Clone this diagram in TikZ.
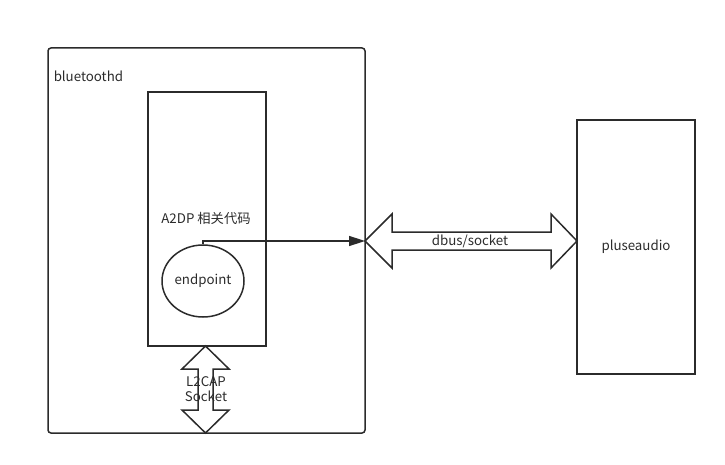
\documentclass[tikz,border=0pt]{standalone}
\usepackage{fontspec}
\setmainfont{Noto Sans CJK SC}
\usetikzlibrary{arrows.meta, shapes.geometric}
\definecolor{ink}{HTML}{2B2B2B}

\begin{document}
\begin{tikzpicture}[
                x = 1pt, y = -1pt, % pixel coordinates, y downwards
                > = {Triangle[length=16pt, width=10pt]}, % arrow head style
                line width = 1.5pt, draw = ink,
                every node/.style = {text = ink, font = \fontsize{13.3}{15}\selectfont},
                box/.style = {draw = ink, line width = 1.5pt, rectangle, inner sep = 0pt},
                bigarrow/.style = {draw = ink, line width = 1.5pt, line join = miter}
            ]

            \useasboundingbox (0,0) rectangle (725,465);

            \node (bt) [box, rounded corners = 3pt, minimum width = 317pt,
                minimum height = 385pt] at (206.5,240.5) {};
            \node (btname) [anchor = west, inner sep = 0pt] at (53,76) {bluetoothd};
            \node (a2dp) [box, minimum width = 118pt, minimum height = 254pt]
                at (207,219) {};
            \node (a2dpname) at (206,218) {A2DP 相关代码};
            \node (ep) [draw = ink, line width = 1.5pt, ellipse, minimum width = 82pt,
                minimum height = 72pt, inner sep = 0pt] at (203,281) {endpoint};
            \node (pa) [box, minimum width = 118pt, minimum height = 254pt]
                at (636,247) {pluseaudio};

            % endpoint to the dbus arrow
            \draw[->] (ep.north) |- (365,241);

            % dbus/socket double arrow
            \draw[bigarrow] (365,241) -- (392,214) -- (392,232) -- (551,232)
                -- (551,214) -- (577,241) -- (551,268) -- (551,250) -- (392,250)
                -- (392,268) -- cycle;
            \node (dbus) at (470,241) {dbus/socket};

            % L2CAP socket double arrow
            \draw[bigarrow] (205.5,346) -- (229,369) -- (213,369) -- (213,410)
                -- (229,410) -- (205.5,433) -- (182,410) -- (198,410)
                -- (198,369) -- (182,369) -- cycle;
            \node (l2cap) [align = center, inner sep = 0pt,
                font = \fontsize{13.3}{15.5}\selectfont] at (206,389) {L2CAP\\Socket};

        \end{tikzpicture}
\end{document}
